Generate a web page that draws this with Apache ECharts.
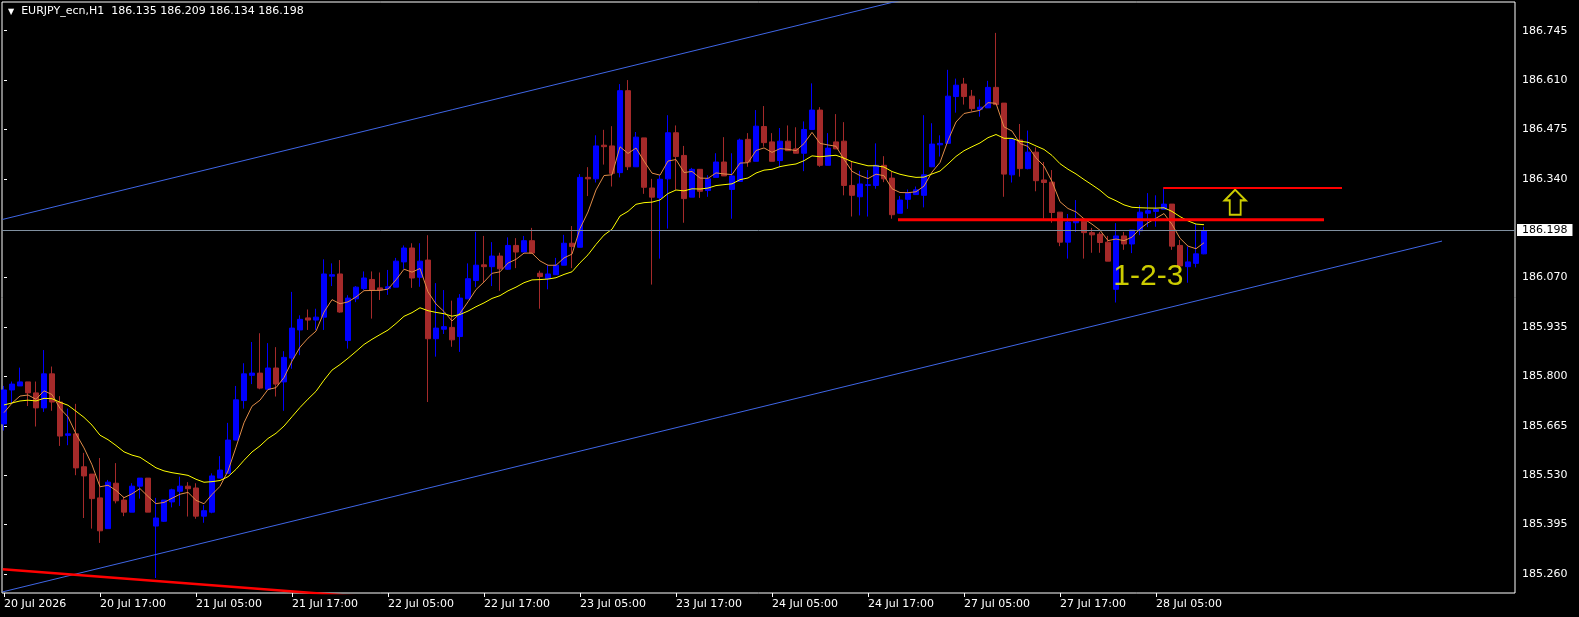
<!DOCTYPE html>
<html>
<head>
<meta charset="utf-8">
<title>EURJPY_ecn,H1</title>
<script src="https://cdn.jsdelivr.net/npm/echarts@6.0.0/dist/echarts.min.js"></script>
<style>
  html, body { margin: 0; padding: 0; background: #000; }
  #chart { width: 1579px; height: 617px; }
</style>
</head>
<body>
<div id="chart"></div>
<script>
// hourly bars from 20 Jul 05:00 to 28 Jul 11:00, the x value of a bar is its index
const opens = [
  185.670, 185.763, 185.774, 185.785, 185.755, 185.714, 185.807, 185.730, 185.639, 185.643,
  185.553, 185.533, 185.468, 185.384, 185.508, 185.462, 185.429, 185.500, 185.522, 185.391,
  185.404, 185.457, 185.486, 185.500, 185.495, 185.418, 185.429, 185.522, 185.535, 185.626,
  185.734, 185.803, 185.809, 185.765, 185.823, 185.785, 185.850, 185.927, 185.960, 185.954,
  185.962, 186.074, 186.080, 185.898, 186.012, 186.040, 186.065, 186.042, 186.040, 186.044,
  186.113, 186.151, 186.071, 186.118, 185.903, 185.929, 185.934, 185.909, 186.012, 186.062,
  186.105, 186.100, 186.129, 186.093, 186.158, 186.140, 186.171, 186.082, 186.067, 186.078,
  186.104, 186.164, 186.153, 186.344, 186.340, 186.432, 186.430, 186.357, 186.581, 186.373,
  186.452, 186.315, 186.288, 186.340, 186.466, 186.404, 186.290, 186.366, 186.308, 186.344,
  186.386, 186.311, 186.333, 186.448, 186.388, 186.483, 186.441, 186.390, 186.443, 186.422,
  186.410, 186.475, 186.528, 186.377, 186.441, 186.443, 186.322, 186.291, 186.322, 186.322,
  186.377, 186.342, 186.246, 186.284, 186.297, 186.295, 186.373, 186.433, 186.437, 186.565,
  186.599, 186.566, 186.530, 186.534, 186.590, 186.547, 186.351, 186.446, 186.368, 186.413,
  186.337, 186.331, 186.249, 186.167, 186.220, 186.224, 186.193, 186.189, 186.167, 186.038,
  186.184, 186.162, 186.198, 186.246, 186.251, 186.257, 186.271, 186.158, 186.100, 186.109,
  186.135
];
const highs = [
  185.774, 185.786, 185.824, 185.785, 185.786, 185.872, 185.827, 185.746, 185.712, 185.725,
  185.591, 185.533, 185.577, 185.517, 185.563, 185.471, 185.508, 185.522, 185.522, 185.468,
  185.462, 185.493, 185.526, 185.511, 185.508, 185.448, 185.535, 185.582, 185.673, 185.774,
  185.836, 185.894, 185.918, 185.891, 185.880, 185.869, 186.031, 185.967, 185.983, 185.985,
  186.120, 186.109, 186.118, 186.022, 186.047, 186.087, 186.087, 186.084, 186.091, 186.124,
  186.158, 186.164, 186.164, 186.186, 186.055, 186.036, 186.007, 186.025, 186.109, 186.195,
  186.184, 186.167, 186.138, 186.180, 186.178, 186.184, 186.206, 186.089, 186.105, 186.124,
  186.187, 186.211, 186.353, 186.372, 186.459, 186.474, 186.484, 186.599, 186.610, 186.468,
  186.452, 186.340, 186.350, 186.514, 186.486, 186.430, 186.370, 186.366, 186.350, 186.410,
  186.454, 186.410, 186.450, 186.465, 186.528, 186.539, 186.465, 186.479, 186.486, 186.481,
  186.497, 186.601, 186.536, 186.465, 186.517, 186.495, 186.388, 186.362, 186.364, 186.437,
  186.402, 186.359, 186.293, 186.311, 186.319, 186.514, 186.492, 186.459, 186.638, 186.614,
  186.616, 186.583, 186.557, 186.608, 186.739, 186.547, 186.448, 186.490, 186.472, 186.426,
  186.386, 186.364, 186.249, 186.244, 186.282, 186.229, 186.206, 186.195, 186.184, 186.219,
  186.195, 186.200, 186.268, 186.301, 186.295, 186.315, 186.271, 186.173, 186.155, 186.217,
  186.209
];
const lows = [
  185.652, 185.725, 185.774, 185.719, 185.663, 185.703, 185.706, 185.610, 185.612, 185.530,
  185.413, 185.384, 185.345, 185.384, 185.453, 185.418, 185.429, 185.466, 185.429, 185.249,
  185.402, 185.442, 185.446, 185.417, 185.411, 185.400, 185.426, 185.522, 185.535, 185.626,
  185.712, 185.779, 185.765, 185.765, 185.745, 185.706, 185.821, 185.858, 185.927, 185.927,
  185.927, 186.047, 185.974, 185.876, 186.003, 186.036, 185.958, 186.009, 186.023, 186.044,
  186.094, 186.042, 186.045, 185.730, 185.854, 185.916, 185.881, 185.867, 186.012, 186.044,
  186.058, 186.047, 186.034, 186.091, 186.096, 186.140, 186.137, 185.985, 186.038, 186.078,
  186.104, 186.096, 186.153, 186.293, 186.330, 186.379, 186.319, 186.344, 186.364, 186.373,
  186.299, 186.051, 186.122, 186.204, 186.310, 186.220, 186.290, 186.288, 186.291, 186.344,
  186.348, 186.231, 186.333, 186.373, 186.388, 186.428, 186.388, 186.372, 186.417, 186.410,
  186.361, 186.475, 186.373, 186.377, 186.422, 186.295, 186.237, 186.240, 186.237, 186.313,
  186.331, 186.231, 186.246, 186.258, 186.297, 186.262, 186.372, 186.401, 186.437, 186.521,
  186.543, 186.525, 186.510, 186.534, 186.543, 186.291, 186.330, 186.346, 186.366, 186.306,
  186.231, 186.220, 186.156, 186.122, 186.195, 186.122, 186.138, 186.138, 186.115, 186.002,
  186.146, 186.137, 186.186, 186.208, 186.209, 186.257, 186.146, 186.093, 186.056, 186.098,
  186.134
];
const closes = [
  185.763, 185.779, 185.785, 185.755, 185.714, 185.807, 185.730, 185.637, 185.643, 185.550,
  185.528, 185.466, 185.378, 185.511, 185.460, 185.429, 185.500, 185.522, 185.429, 185.413,
  185.462, 185.490, 185.500, 185.493, 185.418, 185.433, 185.528, 185.544, 185.626, 185.736,
  185.807, 185.809, 185.768, 185.823, 185.779, 185.852, 185.932, 185.956, 185.954, 185.962,
  186.080, 186.078, 185.976, 186.014, 186.044, 186.069, 186.036, 186.036, 186.045, 186.115,
  186.151, 186.069, 186.115, 185.903, 185.932, 185.936, 185.900, 186.014, 186.067, 186.104,
  186.100, 186.129, 186.094, 186.158, 186.140, 186.171, 186.137, 186.073, 186.080, 186.104,
  186.164, 186.155, 186.344, 186.340, 186.430, 186.428, 186.355, 186.581, 186.373, 186.454,
  186.317, 186.290, 186.339, 186.466, 186.401, 186.286, 186.366, 186.306, 186.340, 186.386,
  186.348, 186.348, 186.446, 186.386, 186.484, 186.439, 186.388, 186.443, 186.417, 186.410,
  186.475, 186.528, 186.377, 186.424, 186.422, 186.322, 186.295, 186.326, 186.324, 186.377,
  186.340, 186.242, 186.282, 186.301, 186.310, 186.351, 186.435, 186.437, 186.566, 186.596,
  186.565, 186.532, 186.536, 186.590, 186.543, 186.353, 186.448, 186.368, 186.413, 186.335,
  186.330, 186.248, 186.167, 186.222, 186.231, 186.193, 186.187, 186.166, 186.115, 186.184,
  186.162, 186.200, 186.249, 186.253, 186.257, 186.271, 186.156, 186.102, 186.113, 186.135,
  186.198
];

const timeTickBars = [0, 12, 24, 36, 48, 60, 72, 84, 96, 108, 120, 132, 144];
const timeTickText = [
  '20 Jul 2026', '20 Jul 17:00', '21 Jul 05:00', '21 Jul 17:00', '22 Jul 05:00',
  '22 Jul 17:00', '23 Jul 05:00', '23 Jul 17:00', '24 Jul 05:00', '24 Jul 17:00',
  '27 Jul 05:00', '27 Jul 17:00', '28 Jul 05:00'
];
const priceTicks = [185.260, 185.395, 185.530, 185.665, 185.800, 185.935, 186.070, 186.340, 186.475, 186.610, 186.745];
const lastPrice = 186.198;

// moving averages at the first visible bar
const fastStart = 185.701;
const slowStart = 185.722;

// drawn objects, points are [bar index, price]
const channelLower = [[-0.19, 185.211], [179.75, 186.170]];
const channelUpper = [[-0.19, 186.229], [179.75, 187.189]];
const redTrend = [[-0.16, 185.273], [50, 185.189]];
const supportLine = [[111.75, 186.228], [165, 186.228]];
const breakoutLine = [[144.9, 186.315], [167.25, 186.315]];
const arrowAt = [[153.9, 186.276]];
const patternAt = [[138.66, 186.072]];

function ema(values, period, start) {
    const k = 2 / (period + 1);
    const out = [start];
    for (let i = 1; i < values.length; i++) {
        out.push(out[i - 1] + k * (values[i] - out[i - 1]));
    }
    return out;
}

const bars = opens.map((o, i) => [i, o, closes[i], lows[i], highs[i]]);
const fastMa = ema(closes, 5, fastStart).map((v, i) => [i, v]);
const slowMa = ema(closes, 20, slowStart).map((v, i) => [i, v]);

const font = 'DejaVu Sans';

function objLine(data, color, width) {
    return {
        type: 'line', data: data, symbol: 'none', silent: true, clip: true,
        lineStyle: { color: color, width: width }
    };
}

const chart = echarts.init(document.getElementById('chart'));
chart.setOption({
    backgroundColor: '#000000',
    animation: false,
    title: {
        left: 3, top: 1,
        text: '{tri|▼}  EURJPY_ecn,H1  186.135 186.209 186.134 186.198',
        textStyle: {
            color: '#ffffff', fontFamily: font, fontSize: 11, fontWeight: 'normal',
            rich: { tri: { fontSize: 8, color: '#ffffff', fontFamily: font } }
        }
    },
    grid: { left: 2, right: 64, top: 2, bottom: 24, show: true, borderColor: '#ffffff', borderWidth: 1 },
    xAxis: {
        type: 'value', min: -0.25, max: 188.875,
        axisLine: { show: false },
        splitLine: { show: false },
        axisTick: { show: true, customValues: timeTickBars, length: 4, lineStyle: { color: '#ffffff' } },
        axisLabel: {
            customValues: timeTickBars,
            formatter: v => timeTickText[timeTickBars.indexOf(v)],
            color: '#ffffff', fontFamily: font, fontSize: 11, align: 'left', margin: 6
        }
    },
    yAxis: {
        type: 'value', position: 'right', min: 185.208, max: 186.8234,
        axisLine: { show: false },
        splitLine: { show: false },
        axisTick: { show: true, customValues: priceTicks, length: 3, lineStyle: { color: '#ffffff' } },
        axisLabel: {
            customValues: priceTicks,
            formatter: v => v.toFixed(3),
            color: '#ffffff', fontFamily: font, fontSize: 11, margin: 7
        }
    },
    series: [
        {
            type: 'candlestick',
            dimensions: ['bar', 'open', 'close', 'lowest', 'highest'],
            encode: { x: 0, y: [1, 2, 3, 4] },
            data: bars,
            barWidth: 5,
            silent: true,
            itemStyle: {
                color: '#0000ff', color0: '#a52a2a',
                borderColor: '#0000ff', borderColor0: '#a52a2a', borderWidth: 1
            }
        },
        {
            type: 'line', data: fastMa, symbol: 'none', silent: true,
            lineStyle: { color: '#e08c48', width: 1 }
        },
        {
            type: 'line', data: slowMa, symbol: 'none', silent: true,
            lineStyle: { color: '#ffff00', width: 1 }
        },
        objLine(channelUpper, '#3f66e6', 1),
        objLine(channelLower, '#3f66e6', 1),
        objLine(redTrend, '#ff0000', 2.5),
        objLine(supportLine, '#ff0000', 3),
        objLine(breakoutLine, '#ff0000', 2),
        {
            type: 'line', data: [], silent: true,
            markLine: {
                silent: true, symbol: 'none', animation: false,
                lineStyle: { color: '#8090a0', width: 1, type: 'solid' },
                label: {
                    position: 'end', formatter: lastPrice.toFixed(3),
                    color: '#000000', backgroundColor: '#ffffff',
                    fontFamily: font, fontSize: 11, padding: [1, 5, 0, 5], distance: 2
                },
                data: [{ yAxis: lastPrice }]
            }
        },
        {
            type: 'scatter', data: arrowAt, silent: true,
            symbol: 'path://M11 0 L22 11 L16.7 11 L16.7 26 L5.3 26 L5.3 11 L0 11 Z',
            symbolSize: [21, 25],
            itemStyle: { color: '#000000', borderColor: '#ffff00', borderWidth: 2 }
        },
        {
            type: 'scatter', data: patternAt, silent: true,
            symbolSize: 0.01,
            itemStyle: { color: 'transparent' },
            label: {
                show: true, position: 'right', distance: 0, formatter: '1-2-3',
                color: '#ffff00', fontFamily: 'Liberation Sans', fontSize: 30
            }
        }
    ]
});
</script>
</body>
</html>
